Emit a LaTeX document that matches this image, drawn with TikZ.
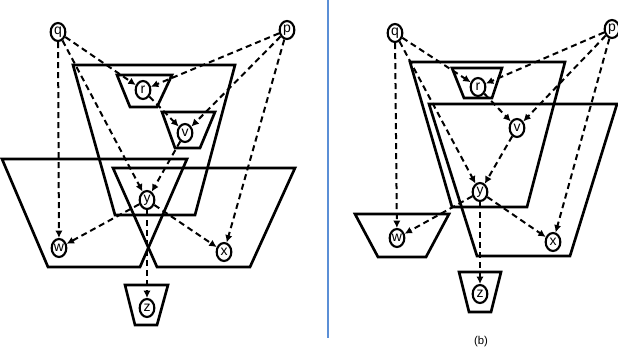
\documentclass[tikz,border=0pt]{standalone}
\usepackage{fontspec}
\setmainfont{Liberation Sans}
\usetikzlibrary{arrows.meta,shapes.geometric}
\definecolor{sepblue}{HTML}{5B8FD6}
\pgfdeclarelayer{bg}
\pgfsetlayers{bg,main}
\begin{document}
\begin{tikzpicture}[x=0.75pt,y=-0.75pt,
  trap/.style={line width=2pt,line join=miter},
  nd/.style={ellipse,draw,line width=1.6pt,fill=white,minimum width=11pt,minimum height=13.5pt,inner sep=0pt,font=\fontsize{10.5}{10.5}\selectfont},
  conn/.style={line width=1.5pt,dash pattern=on 4.5pt off 3pt,-{Latex[length=5.5pt,width=5.5pt]}}]
\useasboundingbox (0,0) rectangle (618,358);
% ---------- left panel ----------
\node[nd] (q1) at (58,32) {q};
\node[nd] (p1) at (287,30) {p};
\node[nd] (r1) at (143,90) {r};
\node[nd] (v1) at (185,133) {v};
\node[nd] (y1) at (147,200) {y};
\node[nd] (w1) at (59,248) {w};
\node[nd] (x1) at (224,252) {x};
\node[nd] (z1) at (147,308) {z};
% ---------- right panel ----------
\node[nd] (q2) at (395,33) {q};
\node[nd] (p2) at (612,29) {p};
\node[nd] (r2) at (478,87) {r};
\node[nd] (v2) at (517,128) {v};
\node[nd] (y2) at (480,192) {y};
\node[nd] (w2) at (397,238) {w};
\node[nd] (x2) at (553,242) {x};
\node[nd] (z2) at (480,294) {z};
\node[font=\fontsize{8.5}{8.5}\selectfont] (lb) at (481,342) {(b)};
\begin{pgfonlayer}{bg}
% left trapezoids
\draw[trap] (73,65) -- (235,65) -- (195,215) -- (115,215) -- cycle;
\draw[trap] (117,75) -- (172,75) -- (157,107) -- (130,107) -- cycle;
\draw[trap] (162,112) -- (215,112) -- (200,148) -- (175,148) -- cycle;
\draw[trap] (2,159) -- (187,159) -- (140,267) -- (48,267) -- cycle;
\draw[trap] (113,168) -- (295,168) -- (250,267) -- (157,267) -- cycle;
\draw[trap] (125,285) -- (168,285) -- (157,325) -- (135,325) -- cycle;
% right trapezoids
\draw[trap] (410,62) -- (565,62) -- (527,207) -- (452,207) -- cycle;
\draw[trap] (429,104) -- (617,104) -- (570,256) -- (477,256) -- cycle;
\draw[trap] (452,68) -- (502,68) -- (492,98) -- (464,98) -- cycle;
\draw[trap] (355,214) -- (449,214) -- (426,257) -- (378,257) -- cycle;
\draw[trap] (459,272) -- (501,272) -- (491,312) -- (469,312) -- cycle;
% separator
\coordinate (s1) at (328,0);
\coordinate (s2) at (328,338);
\draw[sepblue,line width=1.2pt] (s1) -- (s2);
% connectors
\foreach \i in {1,2} {
  \draw[conn] (q\i) -- (w\i);
  \draw[conn] (q\i) -- (r\i);
  \draw[conn] (q\i) -- (y\i);
  \draw[conn] (p\i) -- (r\i);
  \draw[conn] (p\i) -- (v\i);
  \draw[conn] (p\i) -- (x\i);
  \draw[conn] (r\i) -- (v\i);
  \draw[conn] (v\i) -- (y\i);
  \draw[conn] (y\i) -- (w\i);
  \draw[conn] (y\i) -- (x\i);
  \draw[conn] (y\i) -- (z\i);
}
\end{pgfonlayer}
\end{tikzpicture}
\end{document}
